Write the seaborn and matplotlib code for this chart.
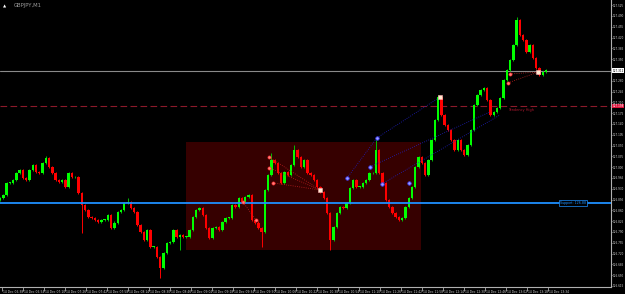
import matplotlib
matplotlib.use("Agg")
import matplotlib.pyplot as plt
import matplotlib.transforms as mtransforms
from matplotlib.patches import Rectangle
import numpy as np
import pandas as pd
import seaborn as sns

# ---------------- data ----------------
chart_title = "GBPJPY,M1"
first_open = 126.895
closes = [
    126.900, 126.910, 126.949, 126.949, 126.958, 126.981, 126.991, 126.965, 126.958, 126.991,
    127.007, 126.984, 126.981, 127.014, 127.030, 127.001, 126.981, 126.958, 126.952, 126.958,
    126.936, 126.981, 126.968, 126.968, 126.917, 126.878, 126.862, 126.839, 126.836, 126.829,
    126.823, 126.829, 126.829, 126.845, 126.803, 126.820, 126.855, 126.862, 126.884, 126.887,
    126.868, 126.855, 126.813, 126.790, 126.764, 126.797, 126.742, 126.742, 126.709, 126.673,
    126.722, 126.755, 126.758, 126.797, 126.774, 126.780, 126.774, 126.774, 126.797, 126.839,
    126.862, 126.868, 126.845, 126.803, 126.771, 126.803, 126.806, 126.797, 126.823, 126.836,
    126.836, 126.878, 126.871, 126.900, 126.887, 126.904, 126.910, 126.829, 126.820, 126.803,
    126.790, 126.926, 126.975, 127.024, 127.014, 126.981, 126.949, 126.984, 126.975, 127.007,
    127.056, 127.033, 127.001, 127.024, 126.981, 126.975, 126.958, 126.936, 126.920, 126.900,
    126.852, 126.764, 126.806, 126.852, 126.871, 126.868, 126.884, 126.933, 126.958, 126.936,
    126.936, 126.949, 126.958, 126.981, 126.981, 127.056, 126.981, 126.949, 126.894, 126.871,
    126.852, 126.839, 126.829, 126.836, 126.871, 126.900, 126.936, 127.001, 127.033, 127.014,
    126.975, 127.024, 127.088, 127.153, 127.227, 127.169, 127.137, 127.121, 127.088, 127.056,
    127.088, 127.056, 127.040, 127.072, 127.121, 127.201, 127.234, 127.250, 127.257, 127.218,
    127.169, 127.179, 127.192, 127.224, 127.282, 127.315, 127.347, 127.396, 127.477, 127.429,
    127.412, 127.374, 127.396, 127.354, 127.322, 127.299, 127.308, 127.315,
]
marked_highs = {14: 127.036, 39: 126.900, 83: 127.046, 90: 127.072, 115: 127.088,
                134: 127.234, 158: 127.487}
marked_lows = {25: 126.787, 49: 126.641, 55: 126.732, 80: 126.742, 101: 126.732}

# time axis: minutes after 14 Dec 06:38
first_bar_min = -1.5
last_bar_min = 414.5
time_labels = ["14 Dec 06:38", "14 Dec 06:54", "14 Dec 07:10", "14 Dec 07:26", "14 Dec 07:42",
               "14 Dec 07:58", "14 Dec 08:14", "14 Dec 08:30", "14 Dec 08:46", "14 Dec 09:02",
               "14 Dec 09:18", "14 Dec 09:34", "14 Dec 09:50", "14 Dec 10:06", "14 Dec 10:22",
               "14 Dec 10:38", "14 Dec 10:54", "14 Dec 11:10", "14 Dec 11:26", "14 Dec 11:42",
               "14 Dec 11:58", "14 Dec 12:14", "14 Dec 12:30", "14 Dec 12:46", "14 Dec 13:02",
               "14 Dec 13:18", "14 Dec 13:34"]
time_label_minutes = [16 * k for k in range(len(time_labels))]
price_ticks = [round(126.615 + 0.035 * k, 3) for k in range(27)]

bid_price = 127.312
tendency_high = 127.198
support_level = 126.884
zone_start, zone_end = 140.2, 319.2
zone_low, zone_high = 126.732, 127.082

# pattern annotation points (minute, price)
red_fan_from_t = [203.4, 203.4, 206.5]
red_fan_from_p = [127.033, 126.998, 126.949]
red_fan_to = (242.3, 126.926)
red_small_t = [183.6, 193.5]
red_small_p = [126.887, 126.829]
blue_seg_t0 = [262.9, 285.7, 280.4, 289.5]
blue_seg_p0 = [126.965, 127.095, 127.001, 126.946]
blue_seg_t1 = [285.7, 333.7, 371.8, 379.4]
blue_seg_p1 = [127.095, 127.227, 127.179, 127.169]
blue_pts_t = [262.9, 285.7, 280.4, 289.5, 310.1]
blue_pts_p = [126.965, 127.095, 127.001, 126.946, 126.949]
red_top_t0 = [387.0, 385.5]
red_top_p0 = [127.302, 127.273]
red_top_to = (408.4, 127.308)
light_pts_t = [242.3, 333.7, 408.4]
light_pts_p = [126.926, 127.227, 127.308]

# ---------------- style ----------------
sns.set_style("dark")
plt.rcParams.update({
    "font.family": ["DejaVu Sans"],
    "axes.facecolor": "black",
    "figure.facecolor": "black",
    "savefig.facecolor": "black",
})

W, H = 625, 294
fig = plt.figure(figsize=(W / 100, H / 100), dpi=100)
ax = fig.add_axes([0, 7 / H, 611 / W, 287 / H])
ax.set_facecolor("black")

px2min = 16 / 21
ax.set_xlim((0 - 2) * px2min, (611 - 2) * px2min)
ax.set_ylim(127.5416 - 0.00324 * 287, 127.5416)

# zone rectangle
ax.add_patch(Rectangle((zone_start, zone_low), zone_end - zone_start, zone_high - zone_low,
                       facecolor="#360000", edgecolor="none", zorder=0))

# candles
n = len(closes)
df = pd.DataFrame({"close": closes})
df["open"] = [first_open] + closes[:-1]
df["t"] = np.linspace(first_bar_min, last_bar_min, n)
min_wick = 0.004
df["high"] = df[["open", "close"]].max(axis=1) + min_wick
df["low"] = df[["open", "close"]].min(axis=1) - min_wick
for i, v in marked_highs.items():
    df.loc[i, "high"] = v
for i, v in marked_lows.items():
    df.loc[i, "low"] = v
bull = df["close"] >= df["open"]
colors = np.where(bull, "#00ff00", "#ff0000")
ax.vlines(df["t"], df["low"], df["high"], colors=np.where(bull, "#00c000", "#ff0000"),
          lw=0.7, zorder=2)
body = (df["close"] - df["open"]).abs().clip(lower=0.0015)
ax.bar(df["t"], body, bottom=df[["open", "close"]].min(axis=1), width=2.4 * px2min,
       color=colors, edgecolor="none", zorder=3)

# horizontal levels
ax.axhline(support_level, color="#1e90ff", lw=1.3, zorder=4)
ax.axhline(bid_price, color="#8a8a8a", lw=0.8, zorder=1)
ax.axhline(tendency_high, color="#8b1a2a", lw=0.8, ls=(0, (6, 3)), zorder=1)

# pattern lines
for t, p in zip(red_fan_from_t, red_fan_from_p):
    ax.plot([t, red_fan_to[0]], [p, red_fan_to[1]], color="#c02020", lw=0.6, ls=":", zorder=5)
ax.plot(red_small_t, red_small_p, color="#c02020", lw=0.6, ls=":", zorder=5)
for t0, p0, t1, p1 in zip(blue_seg_t0, blue_seg_p0, blue_seg_t1, blue_seg_p1):
    ax.plot([t0, t1], [p0, p1], color="#2020c0", lw=0.6, ls=":", zorder=5)
for t, p in zip(red_top_t0, red_top_p0):
    ax.plot([t, red_top_to[0]], [p, red_top_to[1]], color="#c02020", lw=0.6, ls=":", zorder=5)

sns.scatterplot(x=red_fan_from_t + red_small_t + red_top_t0,
                y=red_fan_from_p + red_small_p + red_top_p0,
                color="#ff8080", s=5, edgecolor="#ff3030", linewidth=0.5, ax=ax, zorder=6)
sns.scatterplot(x=blue_pts_t, y=blue_pts_p, color="#a0a0ff", s=6, edgecolor="#4040ff",
                linewidth=0.6, ax=ax, zorder=6)
sns.scatterplot(x=light_pts_t, y=light_pts_p, color="#ffe8d0", s=5, edgecolor="#ffb0b0",
                linewidth=0.4, ax=ax, zorder=6, marker="s")

# labels in chart
ax.text(385.5, tendency_high - 0.012, "Tendency High", color="#b01830", fontsize=2.5,
        va="center", ha="left", zorder=7)
ax.text(425.0, support_level, "Support: 126.88", color="#1e90ff", fontsize=2.3,
        va="center", ha="left", zorder=7,
        bbox=dict(boxstyle="square,pad=0.2", facecolor="black", edgecolor="#1e90ff", lw=0.5))
fig.text(3 / W, 1 - 6 / H, "\u25b2", color="white", fontsize=3, va="center", ha="left")
fig.text(14 / W, 1 - 6 / H, chart_title, color="#9a9a9a", fontsize=3.8, va="center", ha="left")

# axes styling
for s in ["top", "left"]:
    ax.spines[s].set_visible(False)
for s in ["right", "bottom"]:
    ax.spines[s].set_visible(True)
    ax.spines[s].set_color("#b0b0b0")
    ax.spines[s].set_linewidth(0.8)
ax.grid(False)
ax.yaxis.tick_right()
ax.set_yticks(price_ticks)
ax.set_yticklabels([f"{v:.3f}" for v in price_ticks])
ax.tick_params(axis="y", colors="#d0d0d0", labelsize=2.0, length=1.0, width=0.5, pad=0.4,
               right=True, left=False)
ax.set_xticks(time_label_minutes)
ax.set_xticklabels(time_labels, ha="left")
ax.tick_params(axis="x", colors="#d0d0d0", labelsize=2.2, length=3, width=0.5, pad=-0.5,
               bottom=True)
offset = mtransforms.ScaledTranslation(1.2 / 100, 0, fig.dpi_scale_trans)
for lbl in ax.get_xticklabels():
    lbl.set_horizontalalignment("left")
    lbl.set_transform(lbl.get_transform() + offset)

# price boxes on the axis
trans = mtransforms.blended_transform_factory(ax.transAxes, ax.transData)
ax.text(1.0 + 1.5 / 611, bid_price, f"{bid_price:.3f}", transform=trans, fontsize=2.0,
        color="black", va="center", ha="left", clip_on=False, zorder=10,
        bbox=dict(boxstyle="square,pad=0.15", facecolor="white", edgecolor="none"))
ax.text(1.0 + 1.5 / 611, tendency_high, f"{tendency_high:.3f}", transform=trans, fontsize=2.0,
        color="white", va="center", ha="left", clip_on=False, zorder=10,
        bbox=dict(boxstyle="square,pad=0.15", facecolor="#dc143c", edgecolor="none"))

fig.savefig("out.png", dpi=100, facecolor="black")
